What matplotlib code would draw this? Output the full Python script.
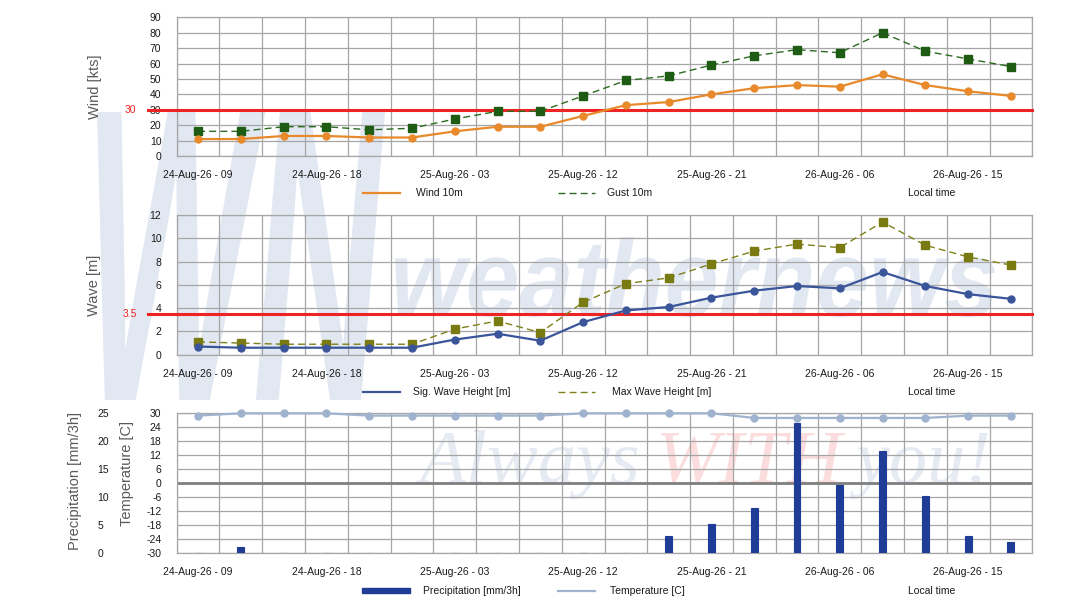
import numpy as np
import matplotlib
matplotlib.use("Agg")
import matplotlib.pyplot as plt
from matplotlib.lines import Line2D
from matplotlib.patches import Rectangle, PathPatch
from matplotlib.textpath import TextPath
from matplotlib.font_manager import FontProperties
from matplotlib.transforms import Affine2D

plt.rcParams['font.family'] = ['Liberation Sans Narrow', 'Liberation Sans', 'DejaVu Sans']
plt.rcParams['axes.unicode_minus'] = False

# 3-hourly forecast steps
times = ['24-Aug-26 - 09', '24-Aug-26 - 12', '24-Aug-26 - 15', '24-Aug-26 - 18', '24-Aug-26 - 21',
         '25-Aug-26 - 00', '25-Aug-26 - 03', '25-Aug-26 - 06', '25-Aug-26 - 09', '25-Aug-26 - 12',
         '25-Aug-26 - 15', '25-Aug-26 - 18', '25-Aug-26 - 21', '26-Aug-26 - 00', '26-Aug-26 - 03',
         '26-Aug-26 - 06', '26-Aug-26 - 09', '26-Aug-26 - 12', '26-Aug-26 - 15', '26-Aug-26 - 18']

wind = [11, 11, 13, 13, 12, 12, 16, 19, 19, 26, 33, 35, 40, 44, 46, 45, 53, 46, 42, 39]
gust = [16, 16, 19, 19, 17, 18, 24, 29, 29, 39, 49, 52, 59, 65, 69, 67, 80, 68, 63, 58]
wind_limit = 30

sig_wave = [0.7, 0.6, 0.6, 0.6, 0.6, 0.6, 1.3, 1.8, 1.2, 2.8, 3.8, 4.1, 4.9, 5.5, 5.9, 5.7, 7.1, 5.9, 5.2, 4.8]
max_wave = [1.1, 1.0, 0.9, 0.9, 0.9, 0.9, 2.2, 2.9, 1.9, 4.5, 6.1, 6.6, 7.8, 8.9, 9.5, 9.2, 11.4, 9.4, 8.4, 7.7]
wave_limit = 3.5

temperature = [29, 30, 30, 30, 29, 29, 29, 29, 29, 30, 30, 30, 30, 28, 28, 28, 28, 28, 29, 29]
precip = [0, 1.0, 0, 0, 0, 0, 0, 0, 0, 0, 0, 3.0, 5.1, 8.1, 23.3, 12.1, 18.2, 10.2, 3.0, 2.0]

W, H = 1084, 609
grid_c = '#A6A6A6'
txt_c = '#1a1a1a'
lab_c = '#595959'
red = '#EE2424'
fs = 7.5


def fx(px):
    return px / W


def fy(py):
    return 1 - py / H


fig = plt.figure(figsize=(W / 100, H / 100), dpi=100)
fig.patch.set_facecolor('white')


# watermark: squeeze a text path into a pixel box
def watermark(text, box, color, prop):
    tp = TextPath((0, 0), text, size=100, prop=prop)
    bb = tp.get_extents()
    x0, y0, x1, y1 = box
    tr = (Affine2D().translate(-bb.x0, -bb.y0)
          .scale((x1 - x0) / bb.width, (y1 - y0) / bb.height)
          .translate(x0, H - y1).scale(1 / W, 1 / H) + fig.transFigure)
    p = PathPatch(tp, transform=tr, fc=color, ec='none', zorder=-5)
    fig.add_artist(p)


wm_c = '#E2E8F2'
bold_it = FontProperties(family=['Liberation Sans', 'DejaVu Sans'], weight='bold', style='italic')
watermark('WN', (97, 112, 385, 400), wm_c, bold_it)
watermark('weathernews', (395, 237, 995, 317), wm_c, bold_it)
serif_it = dict(family=['Liberation Serif', 'DejaVu Serif'], style='italic', fontsize=55, va='baseline', zorder=-5)
fig.text(fx(419), fy(483), 'Always', color='#E5EAF3', **serif_it)
fig.text(fx(656), fy(483), 'WITH', color='#FBDDDD', **serif_it)
fig.text(fx(855), fy(483), 'you!', color='#E5EAF3', **serif_it)

x = np.arange(len(times))
left, right = 176.7, 1032.3


def make_axes(top, bottom, yticks):
    ax = fig.add_axes([fx(left), fy(bottom), (right - left) / W, (bottom - top) / H])
    ax.set_facecolor('none')
    ax.set_xlim(-0.5, len(times) - 0.5)
    ax.set_ylim(yticks[0], yticks[-1])
    ax.set_yticks(yticks)
    ax.set_xticks(x[::3])
    ax.set_xticklabels(times[::3])
    ax.set_xticks(np.arange(-0.5, len(times)), minor=True)
    ax.grid(which='minor', axis='x', color=grid_c, lw=0.9)
    ax.grid(which='major', axis='y', color=grid_c, lw=0.9)
    ax.set_axisbelow(True)
    ax.tick_params(which='both', length=0, labelsize=fs, colors=txt_c)
    ax.tick_params(axis='x', pad=10)
    ax.tick_params(axis='y', pad=11)
    for s in ax.spines.values():
        s.set_color(grid_c)
        s.set_linewidth(0.9)
    return ax


def legend_line(x0, x1, y, **kw):
    fig.add_artist(Line2D([fx(x0), fx(x1)], [fy(y), fy(y)], **kw))


def legend_text(x0, y, s):
    fig.text(fx(x0), fy(y), s, fontsize=fs, color=txt_c, va='center', ha='left')


# --- Wind panel
ax1 = make_axes(17.3, 156, np.arange(0, 91, 10))
ax1.plot(x, gust, color='#2B6B20', lw=1.0, ls=(0, (5, 3)), marker='s', ms=5.5,
         mfc='#1E5C14', mec='#1E5C14', zorder=4, clip_on=False)
ax1.plot(x, wind, color='#E8892B', lw=1.6, marker='o', ms=5, zorder=5, clip_on=False)
ax1.axhline(wind_limit, xmin=-0.034, xmax=1, color=red, lw=2.2, clip_on=False, zorder=3)
fig.text(fx(130), fy(110), '30', color=red, fontsize=fs, ha='center', va='center')
fig.text(fx(95), fy(87), 'Wind [kts]', color=lab_c, fontsize=10.5, rotation=90, ha='center', va='center')
legend_line(363, 400, 193, color='#E8892B', lw=1.6)
legend_text(416, 193, 'Wind 10m')
legend_line(558, 595, 193, color='#2B6B20', lw=1.0, ls=(0, (5, 3)))
legend_text(607, 193, 'Gust 10m')
legend_text(908, 193, 'Local time')

# --- Wave panel
ax2 = make_axes(215, 354.7, np.arange(0, 13, 2))
ax2.plot(x, max_wave, color='#7F7F1A', lw=1.0, ls=(0, (5, 3)), marker='s', ms=5.5,
         mfc='#7A7A12', mec='#7A7A12', zorder=4, clip_on=False)
ax2.plot(x, sig_wave, color='#3A559A', lw=1.6, marker='o', ms=5, zorder=5, clip_on=False)
ax2.axhline(wave_limit, xmin=-0.034, xmax=1, color=red, lw=2.2, clip_on=False, zorder=3)
fig.text(fx(130), fy(314), '3.5', color=red, fontsize=fs, ha='center', va='center')
fig.text(fx(94), fy(285), 'Wave [m]', color=lab_c, fontsize=10.5, rotation=90, ha='center', va='center')
legend_line(363, 400, 392, color='#3A559A', lw=1.6)
legend_text(413, 392, 'Sig. Wave Height [m]')
legend_line(558, 595, 392, color='#7F7F1A', lw=1.0, ls=(0, (5, 3)))
legend_text(612, 392, 'Max Wave Height [m]')
legend_text(908, 392, 'Local time')

# --- Precipitation / temperature panel
ax3 = make_axes(413.3, 552.7, np.arange(-30, 31, 6))
ax3.axhline(0, color='#7F7F7F', lw=2, zorder=2)
ax3.plot(x, temperature, color='#9FB2CE', lw=1.6, marker='o', ms=5, zorder=5, clip_on=False)
ax3b = ax3.twinx()
ax3b.set_facecolor('none')
ax3b.set_ylim(0, 25)
ax3b.set_yticks(np.arange(0, 26, 5))
ax3b.yaxis.tick_left()
ax3b.tick_params(axis='y', length=0, pad=57, labelsize=fs, colors=txt_c)
for lbl in ax3b.get_yticklabels():
    lbl.set_ha('left')
for s in ax3b.spines.values():
    s.set_visible(False)
ax3b.bar(x, precip, width=0.16, color='#1F3D96', edgecolor='#1F3D96', lw=0.8, zorder=3)
fig.text(fx(75), fy(481), 'Precipitation [mm/3h]', color=lab_c, fontsize=10.5, rotation=90,
         ha='center', va='center')
fig.text(fx(127), fy(473), 'Temperature [C]', color=lab_c, fontsize=10.5, rotation=90,
         ha='center', va='center')
fig.add_artist(Rectangle((fx(362), fy(593)), fx(48), 5 / H, transform=fig.transFigure,
                         color='#1F3D96'))
legend_text(423, 591, 'Precipitation [mm/3h]')
legend_line(558, 595, 591, color='#9FB2CE', lw=1.6)
legend_text(610, 591, 'Temperature [C]')
legend_text(908, 591, 'Local time')

fig.savefig('out.png', dpi=100)
